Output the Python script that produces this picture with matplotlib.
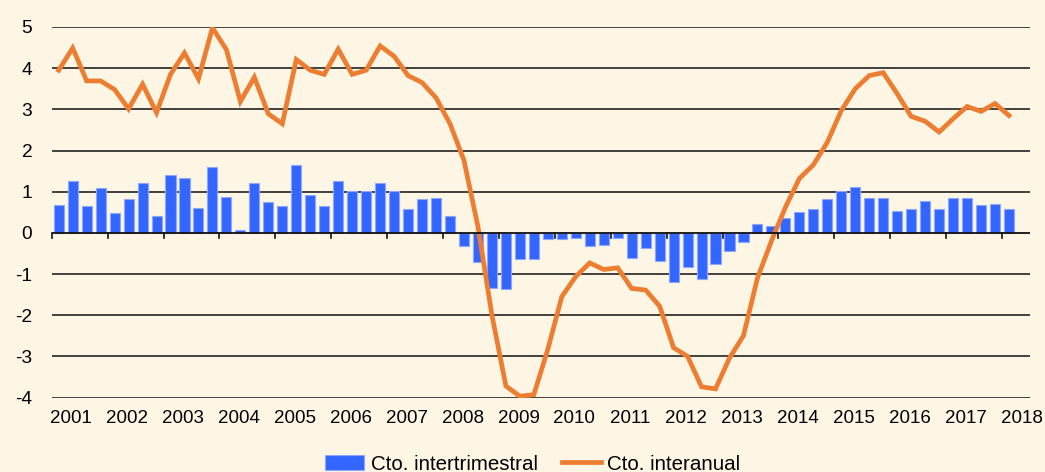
import matplotlib
matplotlib.use("Agg")
import matplotlib.pyplot as plt
import numpy as np

# ------------------- data (quarterly, 2001Q1 - 2018Q1) -------------------
years = [str(y) for y in range(2001, 2019)]

intertrimestral = [
    0.67, 1.26, 0.64, 1.09,   # 2001
    0.47, 0.81, 1.22, 0.40,   # 2002
    1.40, 1.33, 0.60, 1.61,   # 2003
    0.88, 0.08, 1.20, 0.74,   # 2004
    0.64, 1.64, 0.92, 0.64,   # 2005
    1.26, 1.02, 1.02, 1.22,   # 2006
    1.02, 0.57, 0.81, 0.84,   # 2007
    0.40, -0.33, -0.71, -1.33,  # 2008
    -1.36, -0.64, -0.64, -0.16,  # 2009
    -0.16, -0.12, -0.33, -0.30,  # 2010
    -0.12, -0.61, -0.36, -0.68,  # 2011
    -1.20, -0.82, -1.13, -0.75,  # 2012
    -0.43, -0.22, 0.22, 0.17,   # 2013
    0.36, 0.50, 0.57, 0.81,   # 2014
    1.02, 1.12, 0.84, 0.84,   # 2015
    0.53, 0.57, 0.78, 0.57,   # 2016
    0.84, 0.84, 0.67, 0.70,   # 2017
    0.57,                     # 2018
]

interanual = [
    3.95, 4.49, 3.69, 3.69,
    3.48, 3.01, 3.61, 2.92,
    3.85, 4.37, 3.74, 4.98,
    4.45, 3.19, 3.78, 2.89,
    2.65, 4.21, 3.95, 3.85,
    4.46, 3.85, 3.95, 4.54,
    4.29, 3.82, 3.65, 3.28,
    2.65, 1.76, 0.15, -2.00,
    -3.72, -3.97, -3.93, -2.83,
    -1.55, -1.06, -0.73, -0.89,
    -0.85, -1.35, -1.39, -1.78,
    -2.79, -3.00, -3.74, -3.79,
    -3.04, -2.50, -1.10, -0.20,
    0.62, 1.32, 1.65, 2.20,
    2.97, 3.50, 3.82, 3.89,
    3.38, 2.83, 2.71, 2.45,
    2.77, 3.07, 2.95, 3.14,
    2.85,
]

bg = "#FEF6E4"
plt.rcParams['font.family'] = ['Liberation Sans', 'DejaVu Sans']
plt.rcParams['axes.unicode_minus'] = False

fig = plt.figure(figsize=(10.45, 4.72), dpi=100, facecolor=bg)
ax = fig.add_axes([0.0495, 0.1578, 0.9361, 0.785])
ax.set_facecolor(bg)

x = np.arange(len(intertrimestral))
bars = ax.bar(x, intertrimestral, width=0.72, color="#3366FF", edgecolor="#8FA8FF",
              linewidth=0.8, zorder=2, label="Cto. intertrimestral")
line, = ax.plot(np.arange(len(interanual)), interanual, color="#ED7D31", lw=3.4,
                solid_joinstyle="miter", zorder=3, label="Cto. interanual")

# gridlines
for v in range(-4, 6):
    if v != 0:
        ax.axhline(v, color="#222222", lw=1.2, zorder=1)
ax.axhline(0, color="#111111", lw=1.3, zorder=4)

ax.set_xlim(-0.5, 69.5)
ax.set_ylim(-4, 5)
for s in ax.spines.values():
    s.set_visible(False)

# y ticks
ax.set_yticks(range(-4, 6))
ax.tick_params(axis='y', length=0, pad=14, labelsize=13.8)

# year ticks on the zero line
for k in range(0, 69, 4):
    ax.plot([k - 0.5, k - 0.5], [0, -0.12], color="#111111", lw=1.2, zorder=4,
            clip_on=False)
ax.set_xticks([4 * k + 0.9 for k in range(len(years))])
ax.set_xticklabels(years)
ax.tick_params(axis='x', length=0, pad=9, labelsize=13.5)

fig.legend(handles=[bars, line], loc="center",
           bbox_to_anchor=(533 / 1045, 1 - 464 / 472), ncol=2,
           frameon=False, fontsize=14.8, handlelength=1.9, handletextpad=0.3,
           columnspacing=1.2)

fig.savefig("out.png", dpi=100, facecolor=bg)
